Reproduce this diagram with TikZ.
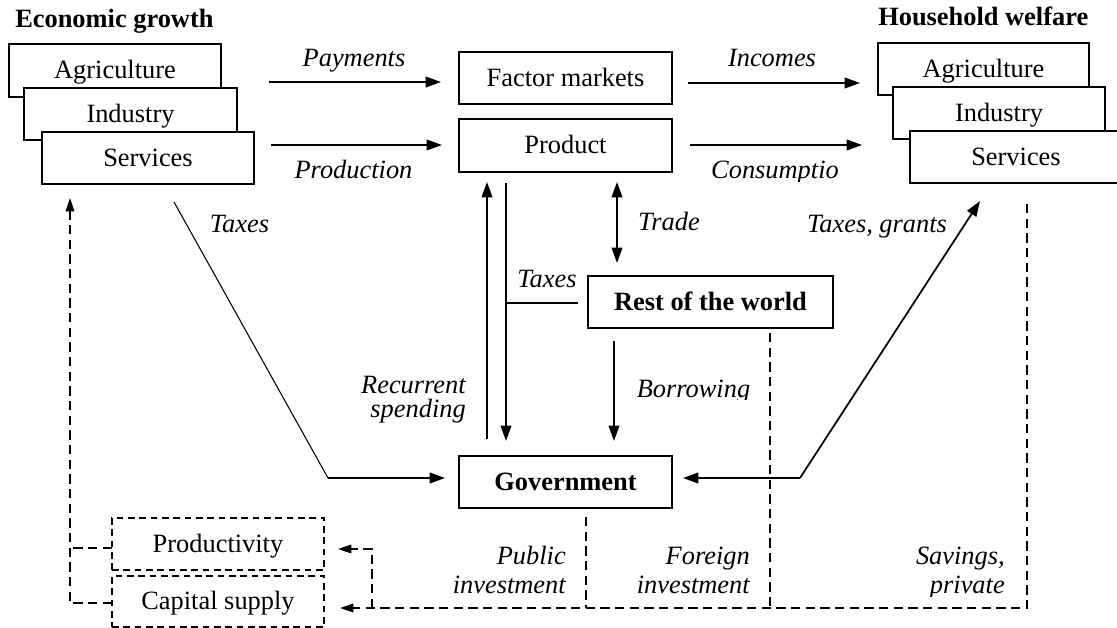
\documentclass[tikz,border=0pt]{standalone}
\usepackage{fontspec}
\setmainfont{Liberation Serif}
\usetikzlibrary{arrows.meta}
\newcommand{\dfont}{\fontsize{19.8pt}{23pt}\selectfont}
\begin{document}
\begin{tikzpicture}[x=0.75pt,y=-0.75pt,
  every node/.style={font=\dfont, inner sep=0pt},
  box/.style={draw, line width=1.25pt, fill=white, minimum width=159.75pt, minimum height=39pt, text height=16.2pt, text depth=4pt},
  dbox/.style={box, line width=0.9pt, dash pattern=on 5pt off 3.5pt},
  arr/.style={line width=1.3pt, -{Triangle[length=11.5pt,width=8pt]}},
  darr/.style={line width=1.3pt, {Triangle[length=11.5pt,width=8pt]}-{Triangle[length=11.5pt,width=8pt]}},
  thinln/.style={line width=0.8pt},
  dsh/.style={line width=1pt, dash pattern=on 7pt off 4pt},
  dtip/.style={-{Triangle[length=10pt,width=6.5pt]}},
  lab/.style={font=\dfont\itshape, anchor=base},
  rlab/.style={font=\dfont\itshape, anchor=base east},
  ttl/.style={font=\dfont\bfseries, anchor=base west}
]
\useasboundingbox (0,0) rectangle (1117,628);

% titles
\node[ttl] (T1) at (15,27) {Economic growth};
\node[ttl] (T2) at (878,25) {Household welfare};

% left stack
\node[box, minimum width=159pt, minimum height=39.75pt] (EA) at (115,70.5) {Agriculture};
\node[box] (EI) at (130.5,114) {Industry};
\node[box, minimum width=159pt] (ES) at (148,158) {Services};

% middle
\node[box] (FM) at (565.5,78) {Factor markets};
\node[box, minimum height=39.75pt] (PR) at (565.5,145.5) {Product};

% right stack
\node[box, minimum width=158.25pt] (HA) at (983.5,69) {Agriculture};
\node[box, minimum width=159pt] (HI) at (999,113) {Industry};
\node[box, minimum width=159pt] (HS) at (1016,157) {Services};

\node[box, minimum width=183.75pt, font=\dfont\bfseries] (RW) at (710.5,302) {Rest of the world};
\node[box, font=\dfont\bfseries] (GV) at (565.5,482) {Government};

\node[dbox, minimum width=159pt] (PD) at (218,544) {Productivity};
\node[dbox, minimum width=159pt, minimum height=38.25pt] (CS) at (218,601.5) {Capital supply};

% coordinates
\coordinate (payS) at (269,82);  \coordinate (payE) at (441,82);
\coordinate (prdS) at (271,145); \coordinate (prdE) at (442,145);
\coordinate (incS) at (688,83);  \coordinate (incE) at (860,83);
\coordinate (conS) at (690,145); \coordinate (conE) at (862,145);
\coordinate (recS) at (487,439); \coordinate (recE) at (487,182);
\coordinate (txdS) at (506,183); \coordinate (txdE) at (506,441);
\coordinate (txhS) at (507,303); \coordinate (txhE) at (578,303);
\coordinate (trdS) at (617,182); \coordinate (trdE) at (617,263);
\coordinate (borS) at (614,341); \coordinate (borE) at (614,441);
\coordinate (ltxS) at (174,202); \coordinate (ltxK) at (328,478); \coordinate (ltxE) at (445,478);
\coordinate (rtxK) at (800,478); \coordinate (rtxE) at (683,478); \coordinate (rtgE) at (980,201);

% solid connectors
\draw[arr] (payS) -- (payE);
\draw[arr] (prdS) -- (prdE);
\draw[arr] (incS) -- (incE);
\draw[arr] (conS) -- (conE);
\draw[arr] (recS) -- (recE);
\draw[arr] (txdS) -- (txdE);
\draw[thinln] (txhS) -- (txhE);
\draw[darr] (trdS) -- (trdE);
\draw[arr] (borS) -- (borE);
\draw[thinln] (ltxS) -- (ltxK);
\draw[arr] (ltxK) -- (ltxE);
\draw[arr] (rtxK) -- (rtxE);
\draw[arr] (rtxK) -- (rtgE);

% dashed connectors
\coordinate (svT) at (1027,204); \coordinate (svB) at (1027,608);
\coordinate (csE) at (340,608);
\coordinate (brB) at (372,608); \coordinate (brT) at (372,549); \coordinate (pdE) at (338,549);
\coordinate (gvT) at (586,517); \coordinate (gvB) at (586,608);
\coordinate (rwT) at (770,333); \coordinate (rwB) at (770,608);
\coordinate (lpA) at (112,548); \coordinate (lpB) at (70,548);
\coordinate (lcA) at (112,603); \coordinate (lcB) at (70,603); \coordinate (lup) at (70,198);

\draw[dsh, dtip] (svT) -- (svB) -- (csE);
\draw[dsh, dtip] (brB) -- (brT) -- (pdE);
\draw[dsh] (gvT) -- (gvB);
\draw[dsh] (rwT) -- (rwB);
\draw[dsh] (lpA) -- (lpB);
\draw[dsh, dtip] (lcA) -- (lcB) -- (lup);

% labels
\node[lab] (Lpay) at (354,66) {Payments};
\node[lab] (Linc) at (772,66) {Incomes};
\node[lab] (Lprd) at (353.5,178) {Production};
\begin{scope}
\clip (700,150) rectangle (860,181);
\node[lab] (Lcon) at (775,178) {Consumptio};
\end{scope}
\node[lab] (Ltx1) at (239.5,232) {Taxes};
\node[lab] (Ltx2) at (877,232) {Taxes, grants};
\node[lab] (Ltrd) at (669,230) {Trade};
\node[lab] (Ltx3) at (547,287) {Taxes};
\begin{scope}
\clip (620,360) rectangle (760,399);
\node[lab] (Lbor) at (693.5,397) {Borrowing};
\end{scope}
\node[rlab] (Lrec1) at (466,393) {Recurrent};
\begin{scope}
\clip (340,398) rectangle (470,422);
\node[rlab] (Lrec2) at (466,417) {spending};
\end{scope}
\node[rlab] (Lpub1) at (566,564) {Public};
\node[rlab] (Lfor1) at (750,564) {Foreign};
\node[rlab] (Lsav1) at (1005,564) {Savings,};
\begin{scope}
\clip (400,570) rectangle (1010,596);
\node[rlab] (Lpub2) at (566,593) {investment};
\node[rlab] (Lfor2) at (750,593) {investment};
\node[rlab] (Lsav2) at (1005,593) {private};
\end{scope}
\end{tikzpicture}
\end{document}
